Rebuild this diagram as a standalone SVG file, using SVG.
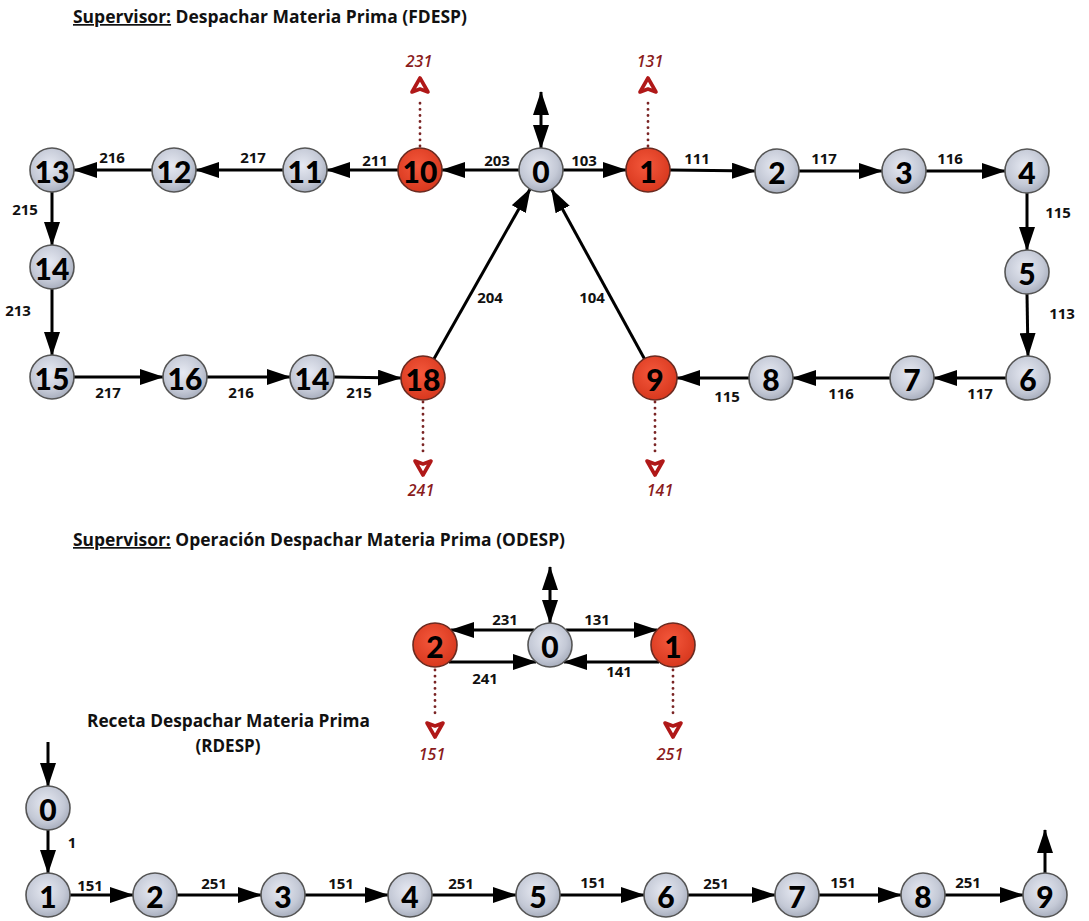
<svg xmlns="http://www.w3.org/2000/svg" width="1089" height="921" viewBox="0 0 1089 921">
<style>
.t{font-family:"Open Sans","Liberation Sans",sans-serif;font-weight:700;fill:#111}
.ttl{font-size:17px}
.el{font-size:15px}
.nl{font-family:Lato,"Open Sans","Liberation Sans",sans-serif;font-weight:900;font-size:30px;fill:#000;text-anchor:middle;dominant-baseline:central}
.rl{font-family:"Open Sans","Liberation Sans",sans-serif;font-style:italic;font-weight:600;font-size:16px;fill:#8a1c1c;text-anchor:middle}
.g{fill:url(#gg);stroke:#555;stroke-width:1.6}
.r{fill:url(#rg);stroke:#6a2a20;stroke-width:1.6}
.e{stroke:#000;stroke-width:3;fill:none;marker-end:url(#ah)}
.d{stroke:#000;stroke-width:3;fill:none;marker-end:url(#ah);marker-start:url(#ahs)}
.dot{stroke:#7a2424;stroke-width:2.8;stroke-dasharray:0.1 6;stroke-linecap:round;fill:none}
.rm{fill:#fff;stroke:#b01818;stroke-width:3.6;stroke-linejoin:round}
</style>
<defs>
<radialGradient id="gg" cx="45%" cy="40%" r="60%">
<stop offset="0" stop-color="#e6e9f2"/><stop offset="0.7" stop-color="#c4c9d6"/><stop offset="1" stop-color="#a9afbe"/>
</radialGradient>
<radialGradient id="rg" cx="45%" cy="40%" r="60%">
<stop offset="0" stop-color="#f4583c"/><stop offset="1" stop-color="#d8381e"/>
</radialGradient>
<marker id="ah" viewBox="0 0 24 16" refX="23" refY="8" markerWidth="24" markerHeight="16" markerUnits="userSpaceOnUse" orient="auto">
<path d="M0,0 L24,8 L0,16 Z" fill="#000"/>
</marker>
<marker id="ahs" viewBox="0 0 24 16" refX="23" refY="8" markerWidth="24" markerHeight="16" markerUnits="userSpaceOnUse" orient="auto-start-reverse">
<path d="M0,0 L24,8 L0,16 Z" fill="#000"/>
</marker>
<path id="ru" class="rm" d="M0,0 L8,14 L0,11 L-8,14 Z"/>
<path id="rd" class="rm" d="M0,0 L8,-14 L0,-11 L-8,-14 Z"/>
</defs>

<g id="titles">
<text class="t ttl" x="73" y="23" textLength="394" lengthAdjust="spacingAndGlyphs"><tspan text-decoration="underline">Supervisor:</tspan> Despachar Materia Prima (FDESP)</text>
<text class="t ttl" x="73" y="546" textLength="492" lengthAdjust="spacingAndGlyphs"><tspan text-decoration="underline">Supervisor:</tspan>  Operación Despachar Materia Prima (ODESP)</text>
<text class="t ttl" x="87" y="727" textLength="283" lengthAdjust="spacingAndGlyphs">Receta Despachar Materia Prima</text>
<text class="t ttl" x="228" y="752" text-anchor="middle">(RDESP)</text>
</g>

<g id="connectors">
<!-- FDESP -->
<line class="d" x1="541" y1="148" x2="541" y2="92"/>
<line class="e" x1="519" y1="170" x2="442" y2="170"/>
<line class="e" x1="398" y1="170" x2="327" y2="170"/>
<line class="e" x1="283" y1="170" x2="196" y2="170"/>
<line class="e" x1="152" y1="170" x2="74" y2="170"/>
<line class="e" x1="563" y1="170" x2="626" y2="170"/>
<line class="e" x1="670" y1="170" x2="755" y2="171"/>
<line class="e" x1="799" y1="171" x2="882" y2="171"/>
<line class="e" x1="926" y1="171" x2="1005" y2="171"/>
<line class="e" x1="1027" y1="193" x2="1027" y2="250"/>
<line class="e" x1="1027" y1="294" x2="1028" y2="356"/>
<line class="e" x1="1006" y1="378" x2="934" y2="378"/>
<line class="e" x1="890" y1="378" x2="793" y2="378"/>
<line class="e" x1="749" y1="378" x2="677" y2="378"/>
<line class="e" x1="644.4" y1="358.7" x2="551.6" y2="189.3"/>
<line class="e" x1="433.9" y1="358.9" x2="530.1" y2="189.1"/>
<line class="e" x1="52" y1="192" x2="52" y2="245"/>
<line class="e" x1="52" y1="289" x2="52" y2="355"/>
<line class="e" x1="74" y1="377" x2="163" y2="377"/>
<line class="e" x1="207" y1="377" x2="290" y2="377"/>
<line class="e" x1="334" y1="377" x2="401" y2="378"/>
<line class="dot" x1="420" y1="146" x2="420" y2="98"/>
<line class="dot" x1="648" y1="146" x2="648" y2="98"/>
<line class="dot" x1="423" y1="402" x2="423" y2="452"/>
<line class="dot" x1="655" y1="402" x2="655" y2="452"/>
<!-- ODESP -->
<line class="d" x1="550" y1="623" x2="550" y2="567"/>
<line class="e" x1="534" y1="630" x2="451" y2="630"/>
<line class="e" x1="566" y1="630" x2="657" y2="630"/>
<line class="e" x1="449" y1="662" x2="536" y2="662"/>
<line class="e" x1="659" y1="662" x2="564" y2="662"/>
<line class="dot" x1="435" y1="670" x2="435" y2="716"/>
<line class="dot" x1="673" y1="670" x2="673" y2="716"/>
<!-- RDESP -->
<line class="e" x1="48" y1="742" x2="48" y2="786"/>
<line class="e" x1="48" y1="830" x2="48" y2="873"/>
<line class="e" x1="70" y1="895" x2="133" y2="895"/>
<line class="e" x1="177" y1="895" x2="261" y2="895"/>
<line class="e" x1="305" y1="895" x2="388" y2="895"/>
<line class="e" x1="432" y1="895" x2="516" y2="895"/>
<line class="e" x1="560" y1="895" x2="644" y2="895"/>
<line class="e" x1="688" y1="895" x2="775" y2="895"/>
<line class="e" x1="819" y1="895" x2="901" y2="895"/>
<line class="e" x1="945" y1="895" x2="1023" y2="895"/>
<line class="e" x1="1045" y1="873" x2="1045" y2="830"/>
</g>

<g id="red-markers">
<use href="#ru" x="420" y="78"/>
<use href="#ru" x="648" y="78"/>
<use href="#rd" x="423" y="475"/>
<use href="#rd" x="655" y="475"/>
<use href="#rd" x="435" y="737"/>
<use href="#rd" x="673" y="737"/>
<text class="rl" x="419" y="67">231</text>
<text class="rl" x="650" y="67">131</text>
<text class="rl" x="421" y="496">241</text>
<text class="rl" x="660" y="496">141</text>
<text class="rl" x="432" y="760">151</text>
<text class="rl" x="670" y="760">251</text>
</g>

<g id="edge-labels" class="t el">
<text x="112" y="163" text-anchor="middle">216</text>
<text x="253" y="163" text-anchor="middle">217</text>
<text x="375" y="166" text-anchor="middle">211</text>
<text x="497" y="166" text-anchor="middle">203</text>
<text x="584" y="166" text-anchor="middle">103</text>
<text x="697" y="164" text-anchor="middle">111</text>
<text x="824" y="164" text-anchor="middle">117</text>
<text x="950" y="164" text-anchor="middle">116</text>
<text x="1058" y="218" text-anchor="middle">115</text>
<text x="1062" y="319" text-anchor="middle">113</text>
<text x="25" y="215" text-anchor="middle">215</text>
<text x="18" y="316" text-anchor="middle">213</text>
<text x="108" y="398" text-anchor="middle">217</text>
<text x="241" y="398" text-anchor="middle">216</text>
<text x="359" y="398" text-anchor="middle">215</text>
<text x="490" y="303" text-anchor="middle">204</text>
<text x="592" y="303" text-anchor="middle">104</text>
<text x="727" y="402" text-anchor="middle">115</text>
<text x="841" y="399" text-anchor="middle">116</text>
<text x="980" y="399" text-anchor="middle">117</text>
<text x="505" y="625" text-anchor="middle">231</text>
<text x="597" y="625" text-anchor="middle">131</text>
<text x="485" y="684" text-anchor="middle">241</text>
<text x="619" y="677" text-anchor="middle">141</text>
<text x="72" y="848" text-anchor="middle">1</text>
<text x="90" y="891" text-anchor="middle">151</text>
<text x="214" y="889" text-anchor="middle">251</text>
<text x="341" y="889" text-anchor="middle">151</text>
<text x="461" y="889" text-anchor="middle">251</text>
<text x="593" y="888" text-anchor="middle">151</text>
<text x="716" y="889" text-anchor="middle">251</text>
<text x="843" y="888" text-anchor="middle">151</text>
<text x="968" y="888" text-anchor="middle">251</text>
</g>

<!-- FDESP nodes -->
<g id="f0"><circle class="g" cx="541" cy="170" r="22"/><text class="nl" x="541" y="171">0</text></g>
<g id="f1"><circle class="r" cx="648" cy="170" r="22"/><text class="nl" x="648" y="171">1</text></g>
<g id="f2"><circle class="g" cx="777" cy="171" r="22"/><text class="nl" x="777" y="172">2</text></g>
<g id="f3"><circle class="g" cx="904" cy="171" r="22"/><text class="nl" x="904" y="172">3</text></g>
<g id="f4"><circle class="g" cx="1027" cy="171" r="22"/><text class="nl" x="1027" y="172">4</text></g>
<g id="f5"><circle class="g" cx="1027" cy="272" r="22"/><text class="nl" x="1027" y="273">5</text></g>
<g id="f6"><circle class="g" cx="1028" cy="378" r="22"/><text class="nl" x="1028" y="379">6</text></g>
<g id="f7"><circle class="g" cx="912" cy="378" r="22"/><text class="nl" x="912" y="379">7</text></g>
<g id="f8"><circle class="g" cx="771" cy="378" r="22"/><text class="nl" x="771" y="379">8</text></g>
<g id="f9"><circle class="r" cx="655" cy="378" r="22"/><text class="nl" x="655" y="379">9</text></g>
<g id="f10"><circle class="r" cx="420" cy="170" r="22"/><text class="nl" x="420" y="171">10</text></g>
<g id="f11"><circle class="g" cx="305" cy="170" r="22"/><text class="nl" x="305" y="171">11</text></g>
<g id="f12"><circle class="g" cx="174" cy="170" r="22"/><text class="nl" x="174" y="171">12</text></g>
<g id="f13"><circle class="g" cx="52" cy="170" r="22"/><text class="nl" x="52" y="171">13</text></g>
<g id="f14a"><circle class="g" cx="52" cy="267" r="22"/><text class="nl" x="52" y="268">14</text></g>
<g id="f15"><circle class="g" cx="52" cy="377" r="22"/><text class="nl" x="52" y="378">15</text></g>
<g id="f16"><circle class="g" cx="185" cy="377" r="22"/><text class="nl" x="185" y="378">16</text></g>
<g id="f14b"><circle class="g" cx="312" cy="377" r="22"/><text class="nl" x="312" y="378">14</text></g>
<g id="f18"><circle class="r" cx="423" cy="378" r="22"/><text class="nl" x="423" y="379">18</text></g>

<!-- ODESP nodes -->
<g id="o0"><circle class="g" cx="550" cy="645" r="22"/><text class="nl" x="550" y="646">0</text></g>
<g id="o1"><circle class="r" cx="673" cy="645" r="22"/><text class="nl" x="673" y="646">1</text></g>
<g id="o2"><circle class="r" cx="435" cy="645" r="22"/><text class="nl" x="435" y="646">2</text></g>

<!-- RDESP nodes -->
<g id="r0"><circle class="g" cx="48" cy="808" r="22"/><text class="nl" x="48" y="809">0</text></g>
<g id="r1"><circle class="g" cx="48" cy="895" r="22"/><text class="nl" x="48" y="896">1</text></g>
<g id="r2"><circle class="g" cx="155" cy="895" r="22"/><text class="nl" x="155" y="896">2</text></g>
<g id="r3"><circle class="g" cx="283" cy="895" r="22"/><text class="nl" x="283" y="896">3</text></g>
<g id="r4"><circle class="g" cx="410" cy="895" r="22"/><text class="nl" x="410" y="896">4</text></g>
<g id="r5"><circle class="g" cx="538" cy="895" r="22"/><text class="nl" x="538" y="896">5</text></g>
<g id="r6"><circle class="g" cx="666" cy="895" r="22"/><text class="nl" x="666" y="896">6</text></g>
<g id="r7"><circle class="g" cx="797" cy="895" r="22"/><text class="nl" x="797" y="896">7</text></g>
<g id="r8"><circle class="g" cx="923" cy="895" r="22"/><text class="nl" x="923" y="896">8</text></g>
<g id="r9"><circle class="g" cx="1045" cy="895" r="22"/><text class="nl" x="1045" y="896">9</text></g>
</svg>
